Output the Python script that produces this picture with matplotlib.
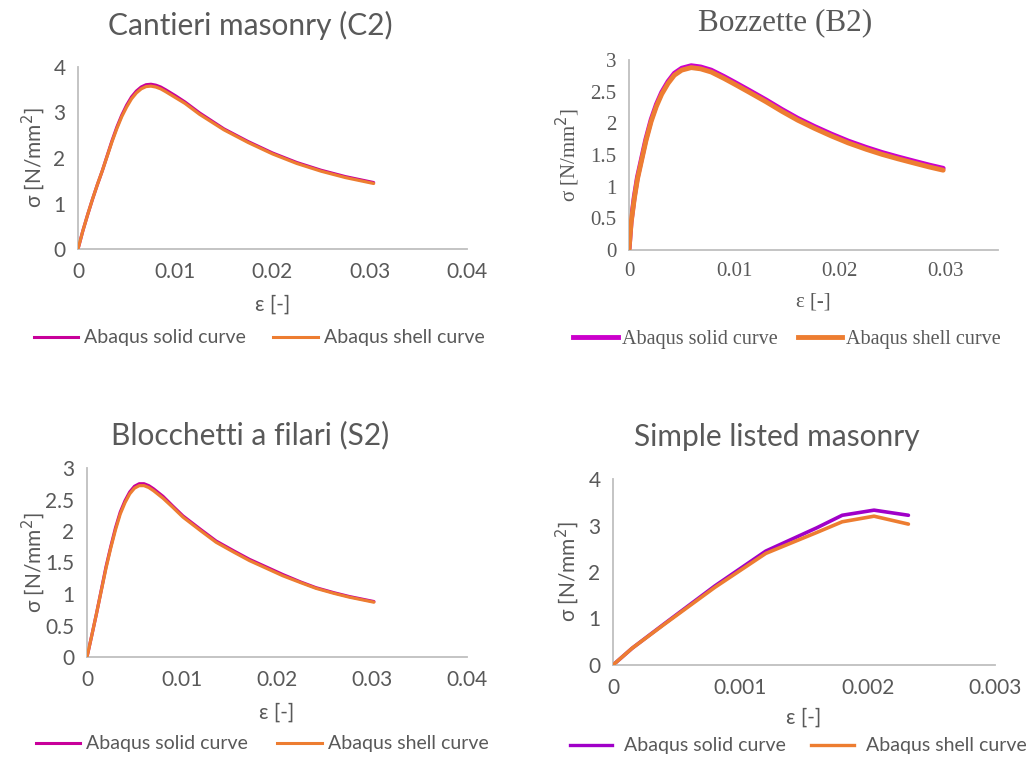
import numpy as np
import matplotlib.pyplot as plt
from matplotlib.lines import Line2D

# ---- data ----
# Cantieri masonry (C2)
c2_eps = [0, 0.0005, 0.0010, 0.0015, 0.0020, 0.0025, 0.0030, 0.0035, 0.0040, 0.0045,
          0.0050, 0.0055, 0.0060, 0.0065, 0.0070, 0.0075, 0.0080, 0.0085, 0.0090, 0.0100,
          0.0110, 0.0125, 0.0150, 0.0175, 0.0200, 0.0225, 0.0250, 0.0275, 0.0304]
c2_solid = [0, 0.40, 0.76, 1.10, 1.42, 1.72, 2.05, 2.38, 2.68, 2.94,
            3.16, 3.34, 3.47, 3.56, 3.61, 3.62, 3.60, 3.56, 3.50, 3.37,
            3.23, 2.99, 2.64, 2.36, 2.11, 1.90, 1.73, 1.59, 1.46]
c2_shell = [0, 0.40, 0.76, 1.10, 1.42, 1.72, 2.04, 2.36, 2.65, 2.91,
            3.12, 3.30, 3.43, 3.52, 3.57, 3.58, 3.56, 3.52, 3.46, 3.33,
            3.20, 2.96, 2.62, 2.34, 2.09, 1.88, 1.71, 1.57, 1.44]

# Bozzette (B2)
b2_eps = [0, 0.0002, 0.0005, 0.0008, 0.0012, 0.0016, 0.0021, 0.0026, 0.0031, 0.0037,
          0.0043, 0.0050, 0.0059, 0.0068, 0.0078, 0.0090, 0.0100, 0.0113, 0.0130, 0.0145,
          0.0160, 0.0176, 0.0192, 0.0208, 0.0225, 0.0240, 0.0255, 0.0271, 0.0285, 0.0298]
b2_solid = [0, 0.45, 0.84, 1.15, 1.45, 1.75, 2.06, 2.30, 2.49, 2.66,
            2.79, 2.87, 2.91, 2.89, 2.84, 2.74, 2.65, 2.53, 2.37, 2.22,
            2.08, 1.95, 1.83, 1.72, 1.62, 1.54, 1.47, 1.40, 1.34, 1.29]
b2_shell = [0, 0.43, 0.81, 1.12, 1.42, 1.72, 2.03, 2.27, 2.46, 2.63,
            2.76, 2.84, 2.88, 2.86, 2.81, 2.71, 2.62, 2.50, 2.34, 2.19,
            2.05, 1.92, 1.80, 1.69, 1.59, 1.51, 1.44, 1.37, 1.31, 1.26]

# Blocchetti a filari (S2)
s2_eps = [0, 0.0005, 0.0010, 0.0015, 0.0020, 0.0025, 0.0030, 0.0035, 0.0040, 0.0045,
          0.0050, 0.0055, 0.0060, 0.0065, 0.0070, 0.0080, 0.0090, 0.0101, 0.0120, 0.0136,
          0.0155, 0.0171, 0.0190, 0.0206, 0.0225, 0.0241, 0.0260, 0.0276, 0.0302]
s2_solid = [0, 0.34, 0.69, 1.06, 1.43, 1.75, 2.05, 2.30, 2.48, 2.62,
            2.71, 2.75, 2.75, 2.72, 2.67, 2.55, 2.40, 2.24, 2.02, 1.84,
            1.68, 1.55, 1.42, 1.31, 1.19, 1.10, 1.02, 0.96, 0.88]
s2_shell = [0, 0.34, 0.69, 1.05, 1.41, 1.73, 2.02, 2.27, 2.45, 2.59,
            2.68, 2.72, 2.72, 2.69, 2.64, 2.52, 2.38, 2.22, 2.00, 1.82,
            1.66, 1.53, 1.40, 1.29, 1.18, 1.09, 1.01, 0.95, 0.87]

# Simple listed masonry
sl_eps = [0, 0.00015, 0.0004, 0.0008, 0.0012, 0.0016, 0.0018, 0.00205, 0.00232]
sl_solid = [0, 0.36, 0.88, 1.70, 2.45, 2.95, 3.22, 3.33, 3.22]
sl_shell = [0, 0.36, 0.87, 1.67, 2.40, 2.85, 3.08, 3.20, 3.03]

legend_labels = ['Abaqus solid curve', 'Abaqus shell curve']
orange = '#ED7D31'
grey = '#595959'

W, H = 1030, 759
fig = plt.figure(figsize=(W / 100, H / 100), dpi=100)


def add_ax(left, top, right, bottom):
    return fig.add_axes([left / W, 1 - bottom / H, (right - left) / W, (bottom - top) / H])


def style_ax(ax, font, size):
    for s in ['top', 'right']:
        ax.spines[s].set_visible(False)
    for s in ['left', 'bottom']:
        ax.spines[s].set_color('#BFBFBF')
        ax.spines[s].set_linewidth(1.3)
    ax.tick_params(length=0, pad=9, labelcolor=grey, labelsize=size)
    for lab in ax.get_xticklabels() + ax.get_yticklabels():
        lab.set_family(font)


def panel(box, eps, solid, shell, title, xlim, xticks, ylim, yticks, font, fs,
          solid_color, lw, title_xy, xlab_y, ylab_x, leg):
    ax = add_ax(*box)
    ax.plot(eps, solid, color=solid_color, lw=lw, solid_capstyle='round',
            solid_joinstyle='round', zorder=2)
    ax.plot(eps, shell, color=orange, lw=lw, solid_capstyle='round',
            solid_joinstyle='round', zorder=3)
    ax.set_xlim(*xlim)
    ax.set_ylim(*ylim)
    ax.set_xticks(xticks)
    ax.set_xticklabels([('%g' % t) for t in xticks])
    ax.set_yticks(yticks)
    ax.set_yticklabels([('%g' % t) for t in yticks])
    style_ax(ax, font, fs['tick'])
    cx = (box[0] + box[2]) / 2
    fig.text(title_xy[0] / W, 1 - title_xy[1] / H, title, ha='center', va='center',
             family=font, size=fs['title'], color=grey)
    fig.text(cx / W, 1 - xlab_y / H, 'ε [-]', ha='center', va='center',
             family=font, size=fs['label'], color=grey)
    fig.text(ylab_x / W, 1 - (box[1] + box[3]) / 2 / H, 'σ [N/mm$^2$]', ha='center', va='center',
             rotation=90, family=font, size=fs['label'], color=grey)
    handles = [Line2D([], [], color=solid_color, lw=leg['lw']), Line2D([], [], color=orange, lw=leg['lw'])]
    fig.legend(handles, legend_labels, loc='center', bbox_to_anchor=(leg['x'] / W, 1 - leg['y'] / H),
               ncol=2, frameon=False, prop={'family': font, 'size': fs['leg']},
               labelcolor=grey, handlelength=leg['hl'], handletextpad=leg['htp'],
               columnspacing=leg['cs'])
    return ax


sans = 'Lato'
serif = 'Liberation Serif'
fs_sans = {'tick': 15, 'title': 21.5, 'label': 15, 'leg': 14}
fs_serif = {'tick': 15, 'title': 22.5, 'label': 15, 'leg': 14.5}

panel((78, 67, 467, 249), c2_eps, c2_solid, c2_shell, 'Cantieri masonry (C2)',
      (0, 0.04), [0, 0.01, 0.02, 0.03, 0.04], (0, 4), [0, 1, 2, 3, 4], sans, fs_sans,
      '#C8009A', 2.3, (250, 25), 305, 33,
      {'x': 259, 'y': 338, 'lw': 2.2, 'hl': 2.3, 'htp': 0.3, 'cs': 1.4})

panel((629, 60, 998, 250), b2_eps, b2_solid, b2_shell, 'Bozzette (B2)',
      (0, 0.035), [0, 0.01, 0.02, 0.03], (0, 3), [0, 0.5, 1, 1.5, 2, 2.5, 3], serif, fs_serif,
      '#CC00CC', 3.5, (785, 23), 302, 568,
      {'x': 787, 'y': 339, 'lw': 3.5, 'hl': 2.2, 'htp': 0.2, 'cs': 1.0})

panel((87, 468, 467, 657), s2_eps, s2_solid, s2_shell, 'Blocchetti a filari (S2)',
      (0, 0.04), [0, 0.01, 0.02, 0.03, 0.04], (0, 3), [0, 0.5, 1, 1.5, 2, 2.5, 3], sans, fs_sans,
      '#C8009A', 2.3, (250, 435), 713, 33,
      {'x': 262, 'y': 744, 'lw': 2.2, 'hl': 2.3, 'htp': 0.3, 'cs': 1.5})

panel((613, 479, 995, 665), sl_eps, sl_solid, sl_shell, 'Simple listed masonry',
      (0, 0.003), [0, 0.001, 0.002, 0.003], (0, 4), [0, 1, 2, 3, 4], sans, fs_sans,
      '#A000C8', 2.6, (777, 437), 718, 567,
      {'x': 798, 'y': 746, 'lw': 2.4, 'hl': 2.2, 'htp': 0.6, 'cs': 1.3})

fig.savefig('out.png', dpi=100, facecolor='white')
